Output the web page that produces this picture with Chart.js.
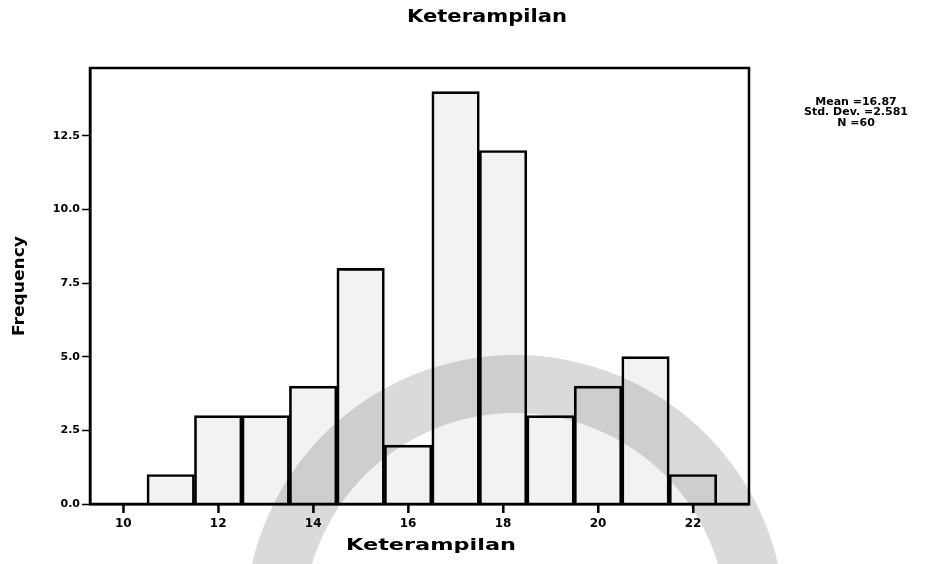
<!DOCTYPE html>
<html>
<head>
<meta charset="utf-8">
<script src="https://cdn.jsdelivr.net/npm/chart.js@4.4.1/dist/chart.umd.min.js"></script>
<style>
  html, body { margin: 0; padding: 0; background: #fff; }
  #wrap { width: 935px; height: 564px; }
</style>
</head>
<body>
<div id="wrap"><canvas id="histChart" width="935" height="564"></canvas></div>
<script>
// skor keterampilan (bin) dan frekuensinya
const scores = [10, 11, 12, 13, 14, 15, 16, 17, 18, 19, 20, 21, 22];
const frequency = [0, 1, 3, 3, 4, 8, 2, 14, 12, 3, 4, 5, 1];
const xTicks = [10, 12, 14, 16, 18, 20, 22];
const yTicks = [0, 2.5, 5, 7.5, 10, 12.5];
const statLines = ['Mean =16.87', 'Std. Dev. =2.581', 'N =60'];

const chartTitle = 'Keterampilan';
const xTitle = 'Keterampilan';
const yTitle = 'Frequency';

// teks tebal yang dilebarkan ke lebar tertentu (huruf SPSS agak lebar)
function wideText(ctx, text, x, y, width, font) {
  ctx.font = font;
  const w = ctx.measureText(text).width;
  ctx.save();
  ctx.translate(x, y);
  ctx.scale(width / w, 1);
  ctx.fillText(text, 0, 0);
  ctx.restore();
}

// latar putih + logo samar di belakang grafik
const backdrop = {
  id: 'backdrop',
  beforeDraw(chart) {
    const ctx = chart.ctx;
    ctx.save();
    ctx.fillStyle = '#fff';
    ctx.fillRect(0, 0, chart.width, chart.height);
    ctx.fillStyle = '#dadada';
    ctx.beginPath();
    ctx.arc(515, 625, 270, 0, Math.PI * 2);
    ctx.arc(515, 625, 212, 0, Math.PI * 2, true);
    ctx.fill();
    ctx.restore();
  }
};

// bingkai plot, tanda tick sumbu x, judul dan keterangan statistik
const decorations = {
  id: 'decorations',
  afterDraw(chart) {
    const { ctx, chartArea: a } = chart;
    const xs = chart.scales.x;
    ctx.save();
    ctx.strokeStyle = '#000';
    ctx.lineWidth = 2.5;
    ctx.strokeRect(a.left, a.top, a.right - a.left, a.bottom - a.top);
    ctx.fillStyle = '#000';
    xTicks.forEach(v => {
      const px = xs.getPixelForValue(v);
      ctx.fillRect(px - 1, a.bottom, 2.5, 9);
    });

    ctx.textAlign = 'center';
    ctx.textBaseline = 'middle';
    wideText(ctx, chartTitle, 487, 18, 160, 'bold 17px "DejaVu Sans"');
    wideText(ctx, xTitle, 431, 546, 170, 'bold 16px "DejaVu Sans"');

    ctx.save();
    ctx.translate(20, (a.top + a.bottom) / 2);
    ctx.rotate(-Math.PI / 2);
    wideText(ctx, yTitle, 0, 0, 100, 'bold 15px "DejaVu Sans"');
    ctx.restore();

    ctx.font = 'bold 11px "DejaVu Sans"';
    statLines.forEach((t, i) => ctx.fillText(t, 856, 102 + i * 10.5));
    ctx.restore();
  }
};

const ctx = document.getElementById('histChart').getContext('2d');
new Chart(ctx, {
  type: 'bar',
  data: {
    datasets: [{
      label: yTitle,
      data: scores.map((s, i) => ({ x: s, y: frequency[i] })),
      backgroundColor: 'rgba(0, 0, 0, 0.05)',
      borderColor: '#000',
      borderWidth: 2,
      barPercentage: 1,
      categoryPercentage: 1
    }]
  },
  options: {
    responsive: false,
    devicePixelRatio: 1,
    animation: false,
    layout: { padding: { left: 0, top: 68, right: 186, bottom: 0 } },
    plugins: {
      legend: { display: false },
      tooltip: { enabled: false }
    },
    scales: {
      x: {
        type: 'linear',
        offset: false,
        min: 9.3,
        max: 23.18,
        afterBuildTicks: s => { s.ticks = xTicks.map(v => ({ value: v })); },
        afterFit: s => { s.height = 60; },
        grid: { display: false },
        border: { display: true, color: '#000', width: 2.5 },
        ticks: {
          color: '#000',
          padding: 5,
          maxRotation: 0,
          font: { family: 'DejaVu Sans', weight: 'bold', size: 12 },
          callback: v => v
        }
      },
      y: {
        min: 0,
        max: 14.8,
        afterBuildTicks: s => { s.ticks = yTicks.map(v => ({ value: v })); },
        afterFit: s => { s.width = 90; },
        grid: { drawOnChartArea: false, color: '#000', tickLength: 8, tickWidth: 1.5 },
        border: { display: true, color: '#000', width: 2.5 },
        ticks: {
          color: '#000',
          padding: 2,
          font: { family: 'DejaVu Sans', weight: 'bold', size: 11 },
          callback: v => Number(v).toFixed(1)
        }
      }
    }
  },
  plugins: [backdrop, decorations]
});
</script>
</body>
</html>
